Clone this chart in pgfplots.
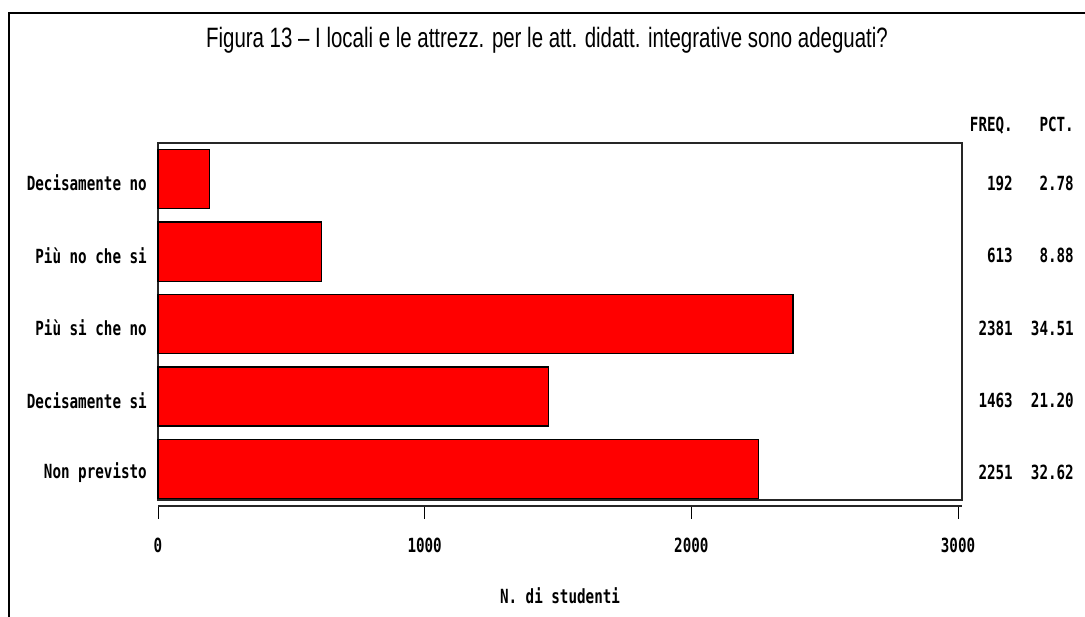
\documentclass[border=0pt]{standalone}
\usepackage{pgfplots}
\pgfplotsset{compat=1.18}
\usepackage{fontspec}
\setmainfont{Liberation Sans}
\newfontfamily\titlefont[FakeStretch=0.73]{Liberation Sans}
\newfontfamily\sasfont[FakeStretch=0.73,UprightFont={* Bold}]{DejaVu Sans Mono}
\newcommand{\sas}{\sasfont\fontsize{19.5}{21}\selectfont}
\begin{document}
\begin{tikzpicture}[x=1pt,y=1pt]
\useasboundingbox (0,0) rectangle (1085,617);
\draw[line width=2pt] (9,0) -- (9,604) -- (1085,604);
\node[anchor=base, inner sep=0] at (547,569) {\titlefont\fontsize{28}{32}\selectfont Figura 13 – I locali e le attrezz. per le att. didatt. integrative sono adeguati?};
\begin{axis}[
  at={(158pt,117pt)}, anchor=south west,
  scale only axis, width=804pt, height=357pt,
  xmin=0, xmax=3015, ymin=0.57, ymax=5.5,
  axis line style={line width=1.2pt, black!85},
  xtick={0,1000,2000,3000},
  xtick pos=bottom,
  tick align=outside,
  xtick style={black, line width=0.8pt, yshift=-6pt},
  major tick length=13pt,
  ytick={1,2,3,4,5},
  yticklabels={Non previsto,Decisamente si,Più si che no,Più no che si,Decisamente no},
  ytick style={draw=none},
  yticklabel style={font=\sas, inner sep=0pt, xshift=2pt, yshift=-4pt},
  xticklabel style={font=\sas, inner sep=0pt, yshift=-25pt},
  /pgf/number format/assume math mode=true,
  /pgf/number format/1000 sep={},
  clip=false,
]
\addplot[xbar, fill=red, draw=black, line width=1.2pt, bar width=0.815]
  coordinates {(2251,1) (1463,2) (2381,3) (613,4) (192,5)};
\draw[line width=1.2pt, black!85] ([yshift=-6pt]rel axis cs:0,0) -- ([yshift=-6pt]rel axis cs:1,0);
\node[anchor=east, inner sep=0, font=\sas] at ([xshift=51pt,yshift=-4pt]axis cs:3015,5) {192};
\node[anchor=east, inner sep=0, font=\sas] at ([xshift=112pt,yshift=-4pt]axis cs:3015,5) {2.78};
\node[anchor=east, inner sep=0, font=\sas] at ([xshift=51pt,yshift=-4pt]axis cs:3015,4) {613};
\node[anchor=east, inner sep=0, font=\sas] at ([xshift=112pt,yshift=-4pt]axis cs:3015,4) {8.88};
\node[anchor=east, inner sep=0, font=\sas] at ([xshift=51pt,yshift=-4pt]axis cs:3015,3) {2381};
\node[anchor=east, inner sep=0, font=\sas] at ([xshift=112pt,yshift=-4pt]axis cs:3015,3) {34.51};
\node[anchor=east, inner sep=0, font=\sas] at ([xshift=51pt,yshift=-4pt]axis cs:3015,2) {1463};
\node[anchor=east, inner sep=0, font=\sas] at ([xshift=112pt,yshift=-4pt]axis cs:3015,2) {21.20};
\node[anchor=east, inner sep=0, font=\sas] at ([xshift=51pt,yshift=-4pt]axis cs:3015,1) {2251};
\node[anchor=east, inner sep=0, font=\sas] at ([xshift=112pt,yshift=-4pt]axis cs:3015,1) {32.62};
\end{axis}
\node[anchor=base east, inner sep=0, font=\sas] at (1013,485) {FREQ.};
\node[anchor=base east, inner sep=0, font=\sas] at (1074,485) {PCT.};
\node[inner sep=0, font=\sas] at (560,21) {N. di studenti};
\end{tikzpicture}
\end{document}
